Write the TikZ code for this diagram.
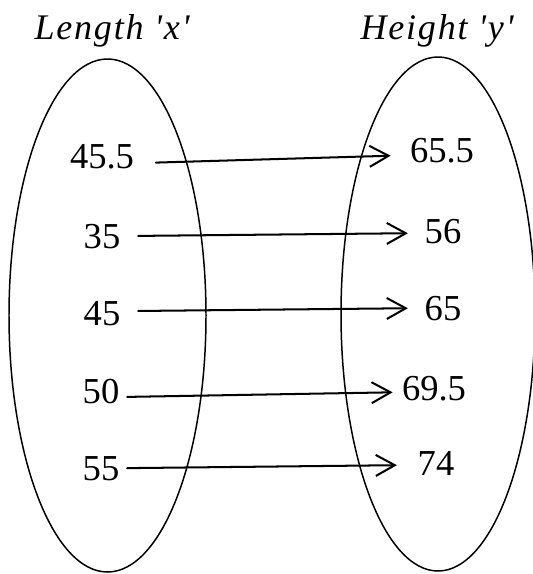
\documentclass[tikz,border=0pt]{standalone}
\usepackage{fontspec}
\setmainfont{Liberation Serif}
\newfontfamily\titlefont[LetterSpace=5]{Liberation Serif}
\usetikzlibrary{arrows.meta}

\begin{document}
\begin{tikzpicture}[x=0.2mm,y=-0.2mm,>={Straight Barb[length=3.8mm,width=4.2mm]},line cap=round,line join=round]
\useasboundingbox (0,0) rectangle (532,574);
\tikzset{num/.style={anchor=base,inner sep=0pt,font=\fontsize{20.8}{24}\selectfont},
  settitle/.style={anchor=base,inner sep=0pt,font=\titlefont\itshape\fontsize{20.5}{24}\selectfont},
  maparrow/.style={->,line width=1.15pt}}
\coordinate (Lc) at (107.5,315.5);
\coordinate (Rc) at (438,314);
\draw[line width=0.85pt] (Lc) ellipse [x radius=98.5,y radius=256.5];
\draw[line width=0.85pt] (Rc) ellipse [x radius=97,y radius=257];
\node[settitle] (tx) at (112,40) {Length 'x'};
\node[settitle] (ty) at (437,40) {Height 'y'};
\node[num] (l1) at (102,168) {45.5};
\node[num] (l2) at (102,248) {35};
\node[num] (l3) at (102,325) {45};
\node[num] (l4) at (101,403) {50};
\node[num] (l5) at (101,480) {55};
\node[num] (r1) at (442,163) {65.5};
\node[num] (r2) at (443,243) {56};
\node[num] (r3) at (443,320) {65};
\node[num] (r4) at (434,400) {69.5};
\node[num] (r5) at (436,475) {74};
\draw[maparrow,shorten <=4.3mm,shorten >=3.8mm] ([yshift=-1.4mm]l1.east) -- ([yshift=-0.8mm]r1.west);
\draw[maparrow,shorten <=3.5mm,shorten >=3.3mm] (l2.east) -- ([yshift=-0.4mm]r2.west);
\draw[maparrow,shorten <=3.5mm,shorten >=3.3mm] ([yshift=0.4mm]l3.east) -- (r3.west);
\draw[maparrow,shorten <=1.5mm,shorten >=1.8mm] ([yshift=-1.2mm]l4.east) -- ([yshift=-0.8mm]r4.west);
\draw[maparrow,shorten <=1.5mm,shorten >=4.1mm] (l5.east) -- ([yshift=-0.4mm]r5.west);
\end{tikzpicture}
\end{document}
